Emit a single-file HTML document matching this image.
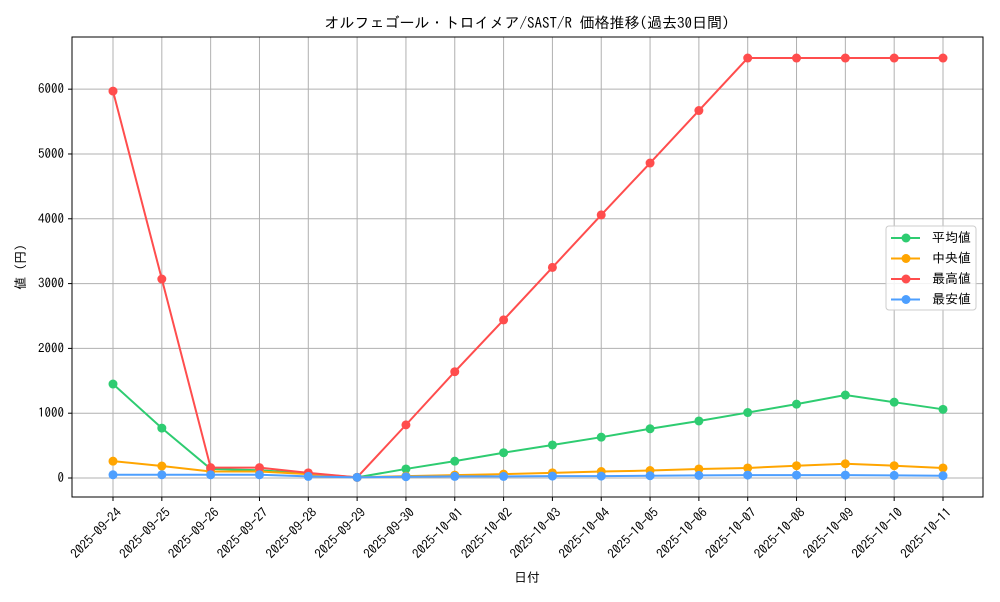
<!DOCTYPE html>
<html><head><meta charset="utf-8"><style>
body{margin:0;background:#fff;font-family:"IPAGothic","Noto Sans CJK JP",sans-serif}
svg text{font-family:"IPAGothic","Noto Sans CJK JP",monospace;font-size:13px;fill:#000}
</style></head><body>
<svg id="chart" width="1000" height="600"></svg>
<script>
const categories=["2025-09-24","2025-09-25","2025-09-26","2025-09-27","2025-09-28","2025-09-29","2025-09-30","2025-10-01","2025-10-02","2025-10-03","2025-10-04","2025-10-05","2025-10-06","2025-10-07","2025-10-08","2025-10-09","2025-10-10","2025-10-11"];
const meanValues=[1450,770,140,120,70,10,140,260,390,510,630,760,880,1010,1140,1280,1170,1060];
const medianValues=[260,185,100,100,60,10,30,45,60,80,100,115,140,155,190,220,190,155];
const maxValues=[5970,3070,160,160,80,10,820,1640,2440,3250,4060,4860,5670,6480,6480,6480,6480,6480];
const minValues=[50,50,50,50,25,10,20,25,25,30,30,35,40,45,45,45,40,35];
const yTicks=[0,1000,2000,3000,4000,5000,6000];
const seriesNames=["平均値","中央値","最高値","最安値"];
const colors=["#2ecc71","#ffa500","#ff4d4d","#4d9fff"];
const NS="http://www.w3.org/2000/svg";
const svg=document.getElementById('chart');
const L=72,R=983,T=37,B=497,yMin=-293,yMax=6805;
const xs=i=>113+i*(943-113)/(categories.length-1);
const ys=v=>B-(v-yMin)/(yMax-yMin)*(B-T);
function mk(t,a,p){const e=document.createElementNS(NS,t);for(const k in a)e.setAttribute(k,a[k]);(p||svg).appendChild(e);return e;}
categories.forEach((c,i)=>{
 const g=mk('line',{x1:xs(i),x2:xs(i),y1:T,y2:B,stroke:'#b0b0b0','stroke-width':1});
 
 
 mk('line',{x1:xs(i),x2:xs(i),y1:B,y2:B+4,stroke:'#000'});
 const t=mk('text',{x:xs(i)+3,y:B+10,'text-anchor':'end',transform:`rotate(-45 ${xs(i)+3} ${B+10})`,'dominant-baseline':'hanging'});
 t.textContent=c;
 
 
});
yTicks.forEach(v=>{
 const g=mk('line',{x1:L,x2:R,y1:ys(v),y2:ys(v),stroke:'#b0b0b0','stroke-width':1});
 
 
 mk('line',{x1:L-4,x2:L,y1:ys(v),y2:ys(v),stroke:'#000'});
 const t=mk('text',{x:L-8,y:ys(v)+4,'text-anchor':'end'});
 t.textContent=v;
 
 
});
const data=[meanValues,medianValues,maxValues,minValues];
data.forEach((arr,s)=>{
 const g=mk('g',{});
 
 
 mk('polyline',{points:arr.map((v,i)=>xs(i)+','+ys(v)).join(' '),fill:'none',stroke:colors[s],'stroke-width':2});
 arr.forEach((v,i)=>{const c=mk('circle',{cx:xs(i),cy:ys(v),r:4.5,fill:colors[s]},g);
  
  });
});
const fr=mk('rect',{x:L,y:T,width:R-L,height:B-T,fill:'none',stroke:'#000','stroke-width':1});


const title=mk('text',{x:527,y:28,'text-anchor':'middle'});
title.setAttribute('style','font-size:15px');
title.textContent='オルフェゴール・トロイメア/SAST/R 価格推移(過去30日間)';


const xt=mk('text',{x:527,y:582,'text-anchor':'middle'});xt.textContent='日付';


const yt=mk('text',{x:25,y:267,'text-anchor':'middle',transform:'rotate(-90 25 267)'});yt.textContent='値 (円)';


const lg=mk('g',{});


mk('rect',{x:886,y:226,width:90,height:84,rx:3,fill:'#fff','fill-opacity':0.85,stroke:'#ccc'},lg);
seriesNames.forEach((n,s)=>{
 const y=238+s*20.5;
 const e=mk('g',{},lg);
 
 
 mk('line',{x1:891,x2:920,y1:y,y2:y,stroke:colors[s],'stroke-width':2},e);
 mk('circle',{cx:906,cy:y,r:4.5,fill:colors[s]},e);
 const t=mk('text',{x:932,y:y+4},e);t.textContent=n;
});
</script>
</body></html>
